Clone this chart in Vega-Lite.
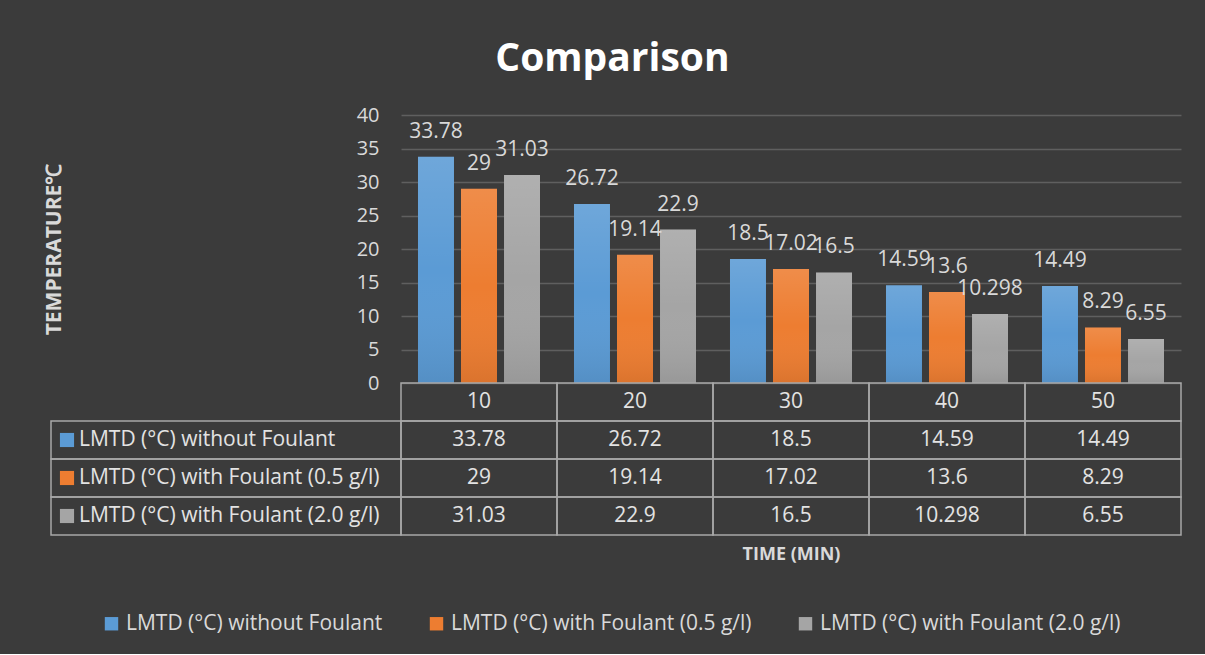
{
  "$schema": "https://vega.github.io/schema/vega-lite/v6.json",
  "background": "#3b3b3b",
  "padding": {"left": 43, "top": 40, "right": 23, "bottom": 20},
  "title": {"text": "Comparison", "fontSize": 39, "font": "Open Sans", "fontWeight": "bold", "color": "#ffffff", "anchor": "middle", "offset": 26},
  "datasets": {
    "lmtd": [
      {"time": 10, "series": "LMTD  (°C) without Foulant", "value": 33.78},
      {"time": 10, "series": "LMTD  (°C) with Foulant (0.5 g/l)", "value": 29},
      {"time": 10, "series": "LMTD  (°C) with Foulant (2.0 g/l)", "value": 31.03},
      {"time": 20, "series": "LMTD  (°C) without Foulant", "value": 26.72},
      {"time": 20, "series": "LMTD  (°C) with Foulant (0.5 g/l)", "value": 19.14},
      {"time": 20, "series": "LMTD  (°C) with Foulant (2.0 g/l)", "value": 22.9},
      {"time": 30, "series": "LMTD  (°C) without Foulant", "value": 18.5},
      {"time": 30, "series": "LMTD  (°C) with Foulant (0.5 g/l)", "value": 17.02},
      {"time": 30, "series": "LMTD  (°C) with Foulant (2.0 g/l)", "value": 16.5},
      {"time": 40, "series": "LMTD  (°C) without Foulant", "value": 14.59},
      {"time": 40, "series": "LMTD  (°C) with Foulant (0.5 g/l)", "value": 13.6},
      {"time": 40, "series": "LMTD  (°C) with Foulant (2.0 g/l)", "value": 10.298},
      {"time": 50, "series": "LMTD  (°C) without Foulant", "value": 14.49},
      {"time": 50, "series": "LMTD  (°C) with Foulant (0.5 g/l)", "value": 8.29},
      {"time": 50, "series": "LMTD  (°C) with Foulant (2.0 g/l)", "value": 6.55}
    ]
  },
  "data": {"name": "lmtd"},
  "columns": 2,
  "spacing": 0,
  "bounds": "flush",
  "concat": [
    {
      "width": 350,
      "height": 268,
      "transform": [{"filter": "datum.time === 10 && datum.value > 30"}],
      "mark": {"type": "text", "opacity": 0},
      "encoding": {"text": {"value": ""}}
    },
    {
      "width": 780,
      "height": 268,
      "encoding": {
        "x": {"field": "time", "type": "ordinal", "scale": {"paddingInner": 0, "paddingOuter": 0}, "axis": null},
        "xOffset": {"field": "series", "type": "nominal", "scale": {"domain": ["LMTD  (°C) without Foulant", "LMTD  (°C) with Foulant (0.5 g/l)", "LMTD  (°C) with Foulant (2.0 g/l)"], "paddingInner": 0.163, "paddingOuter": 0.395}},
        "y": {
          "field": "value", "type": "quantitative",
          "scale": {"domain": [0, 40]},
          "axis": {
            "title": "TEMPERATURE℃", "values": [0, 5, 10, 15, 20, 25, 30, 35, 40],
            "grid": true, "gridColor": "#5f5f5f", "gridWidth": 1.5, "domain": false, "ticks": false,
            "labelPadding": 22, "labelFontSize": 20, "labelColor": "#d9d9d9", "labelFont": "Open Sans",
            "titleFontSize": 21, "titleFontWeight": "bold", "titleColor": "#d9d9d9", "titleFont": "Open Sans",
            "titlePadding": 292
          }
        }
      },
      "layer": [
        {
          "mark": {"type": "bar"},
          "encoding": {
            "color": {
              "field": "series", "type": "nominal",
              "scale": {"domain": ["LMTD  (°C) without Foulant", "LMTD  (°C) with Foulant (0.5 g/l)", "LMTD  (°C) with Foulant (2.0 g/l)"], "range": ["#5b9bd5", "#ed7d31", "#a5a5a5"]},
              "legend": {
                "title": null, "orient": "none", "legendX": 50, "legendY": 498, "direction": "horizontal", "symbolType": "square", "symbolSize": 180,
                "labelFontSize": 21, "labelColor": "#d9d9d9", "labelFont": "Open Sans", "labelLimit": 420,
                "columnPadding": 38, "symbolOffset": 0, "labelOffset": 4
              }
            }
          }
        },
        {
          "mark": {
            "type": "bar",
            "fill": {"gradient": "linear", "x1": 0, "y1": 0, "x2": 0, "y2": 1, "stops": [{"offset": 0, "color": "rgba(255,255,255,0.12)"}, {"offset": 0.5, "color": "rgba(255,255,255,0)"}, {"offset": 1, "color": "rgba(0,0,0,0.08)"}]}
          }
        },
        {
          "mark": {"type": "text", "dy": -19, "baseline": "alphabetic", "fontSize": 21, "font": "Open Sans", "color": "#d9d9d9"},
          "encoding": {"text": {"field": "value", "type": "nominal"}}
        }
      ]
    },
    {
      "width": 350,
      "height": 152,
      "transform": [{"filter": "datum.time === 10"}],
      "encoding": {
        "y": {"field": "series", "type": "nominal", "scale": {"domain": ["header", "LMTD  (°C) without Foulant", "LMTD  (°C) with Foulant (0.5 g/l)", "LMTD  (°C) with Foulant (2.0 g/l)"], "paddingInner": 0, "paddingOuter": 0}, "axis": null}
      },
      "layer": [
        {"mark": {"type": "rect", "filled": false, "stroke": "#a8a8a8", "strokeWidth": 1.5}},
        {
          "mark": {"type": "square", "size": 200, "x": 16, "opacity": 1, "filled": true},
          "encoding": {"color": {"field": "series", "type": "nominal", "legend": null}}
        },
        {
          "mark": {"type": "text", "align": "left", "x": 28, "fontSize": 21, "font": "Open Sans", "color": "#e3e3e3"},
          "encoding": {"text": {"field": "series", "type": "nominal"}}
        }
      ]
    },
    {
      "width": 780,
      "height": 152,
      "encoding": {
        "x": {
          "field": "time", "type": "ordinal", "scale": {"paddingInner": 0, "paddingOuter": 0},
          "axis": {"title": "TIME (MIN)", "labels": false, "ticks": false, "domain": false, "titlePadding": 10, "titleFontSize": 18, "titleFontWeight": "bold", "titleColor": "#d9d9d9", "titleFont": "Open Sans"}
        }
      },
      "layer": [
        {
          "mark": {"type": "rect", "filled": false, "stroke": "#a8a8a8", "strokeWidth": 1.5},
          "encoding": {"y": {"field": "series", "type": "nominal", "scale": {"domain": ["header", "LMTD  (°C) without Foulant", "LMTD  (°C) with Foulant (0.5 g/l)", "LMTD  (°C) with Foulant (2.0 g/l)"], "paddingInner": 0, "paddingOuter": 0}, "axis": null}}
        },
        {
          "mark": {"type": "text", "fontSize": 21, "font": "Open Sans", "color": "#e3e3e3"},
          "encoding": {"y": {"field": "series", "type": "nominal"}, "text": {"field": "value", "type": "nominal"}}
        },
        {
          "transform": [{"filter": "datum.series === 'LMTD  (°C) without Foulant'"}],
          "mark": {"type": "rect", "filled": false, "stroke": "#a8a8a8", "strokeWidth": 1.5},
          "encoding": {"y": {"datum": "header", "type": "nominal"}}
        },
        {
          "transform": [{"filter": "datum.series === 'LMTD  (°C) without Foulant'"}],
          "mark": {"type": "text", "fontSize": 21, "font": "Open Sans", "color": "#e3e3e3"},
          "encoding": {"y": {"datum": "header", "type": "nominal"}, "text": {"field": "time", "type": "nominal"}}
        }
      ]
    }
  ],
  "config": {
    "view": {"stroke": null},
    "font": "Open Sans"
  }
}
